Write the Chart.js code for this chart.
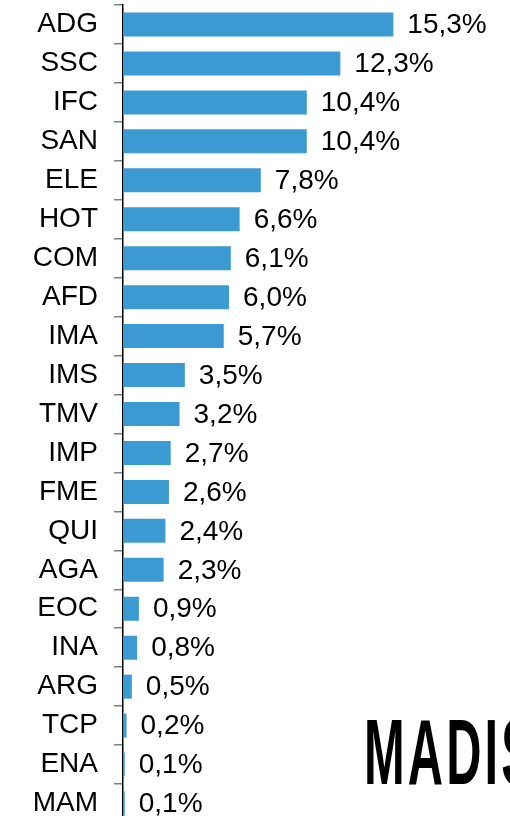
<!DOCTYPE html>
<html>
<head>
<meta charset="utf-8">
<script src="https://cdn.jsdelivr.net/npm/chart.js@4"></script>
<style>
  body { margin: 0; background: #fff; overflow: hidden; }
  #wrap { position: absolute; left: 0; top: 0; width: 510px; height: 823px; }
  #marca {
    position: absolute; left: 364px; top: 706px;
    font-family: "Liberation Sans", Arial, sans-serif; font-weight: bold;
    font-size: 92px; line-height: 1; color: #000; letter-spacing: 6px;
    transform: scaleX(0.53); transform-origin: left top; white-space: nowrap;
  }
</style>
</head>
<body>
<div id="wrap"><canvas id="grafico"></canvas></div>
<div id="marca">MADIS</div>
<script>
// datos
const categorias = ['ADG', 'SSC', 'IFC', 'SAN', 'ELE', 'HOT', 'COM', 'AFD', 'IMA', 'IMS', 'TMV',
  'IMP', 'FME', 'QUI', 'AGA', 'EOC', 'INA', 'ARG', 'TCP', 'ENA', 'MAM'];
const porcentajes = [15.3, 12.3, 10.4, 10.4, 7.8, 6.6, 6.1, 6.0, 5.7, 3.5, 3.2,
  2.7, 2.6, 2.4, 2.3, 0.9, 0.8, 0.5, 0.2, 0.1, 0.1];

const fuente = { family: '"Liberation Sans", Arial, sans-serif', size: 28 };

// etiquetas de valor al lado de cada barra
const etiquetasValor = {
  id: 'etiquetasValor',
  afterDatasetsDraw(chart) {
    const ctx = chart.ctx;
    const meta = chart.getDatasetMeta(0);
    ctx.save();
    ctx.font = fuente.size + 'px ' + fuente.family;
    ctx.fillStyle = '#000';
    ctx.textAlign = 'left';
    ctx.textBaseline = 'middle';
    meta.data.forEach(function(barra, i){
      const texto = porcentajes[i].toFixed(1).replace('.', ',') + '%';
      ctx.fillText(texto, barra.x + 14, barra.y + 1);
    });
    ctx.restore();
  }
};

new Chart(document.getElementById('grafico'), {
  type: 'bar',
  data: {
    labels: categorias,
    datasets: [{
      data: porcentajes,
      backgroundColor: '#3C9AD2',
      barPercentage: 0.616,
      categoryPercentage: 1
    }]
  },
  options: {
    indexAxis: 'y',
    responsive: true,
    maintainAspectRatio: false,
    animation: false,
    layout: { padding: { top: 5, right: 0, bottom: 0, left: 0 } },
    scales: {
      x: { display: false, min: 0, max: 21.9 },
      y: {
        afterFit: function(scale){
          scale.width = 123;
          // sin margen extra arriba/abajo por la altura de las etiquetas
          scale.paddingTop = 0;
          scale.paddingBottom = 0;
        },
        grid: { drawOnChartArea: false, drawTicks: true, tickLength: 9, color: '#7f7f7f', lineWidth: 1.5, offset: true },
        border: { color: '#000', width: 1.5 },
        ticks: { color: '#000', font: fuente, padding: 16, autoSkip: false }
      }
    },
    plugins: {
      legend: { display: false },
      tooltip: { enabled: false }
    }
  },
  plugins: [etiquetasValor]
});
</script>
</body>
</html>
